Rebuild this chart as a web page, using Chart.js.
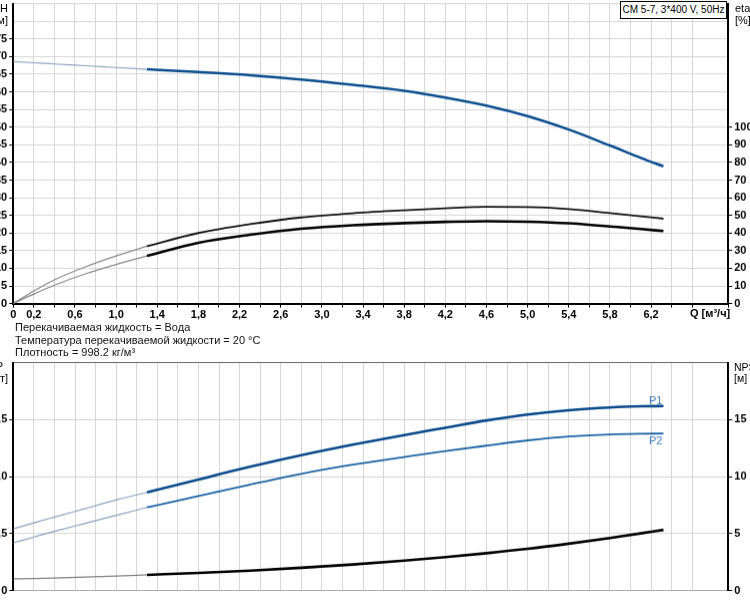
<!DOCTYPE html>
<html>
<head>
<meta charset="utf-8">
<script src="https://cdn.jsdelivr.net/npm/chart.js@4.4.0/dist/chart.umd.min.js"></script>
<style>
  html, body { margin: 0; padding: 0; background: #fff; }
  body { width: 750px; height: 600px; overflow: hidden; position: relative;
         font-family: "Liberation Sans", Arial, sans-serif; color: #000; }
  .box { position: absolute; left: 0; top: 0; }
  .lbl { position: absolute; font-size: 11px; line-height: 12px; white-space: nowrap; }
  .title { position: absolute; left: 620px; top: 1px; width: 107px; height: 18px; box-sizing: border-box;
           border: 1px solid #000; background: #fff; font-size: 10px; line-height: 16px; text-align: center;
           white-space: nowrap; }
</style>
</head>
<body>
<div id="topBox" class="box"><canvas id="topChart" width="800" height="330"></canvas></div>
<div id="botBox" class="box"><canvas id="botChart" width="800" height="260"></canvas></div>

<div class="lbl" style="right:742px; top:2px; text-align:right;">H<br>[м]</div>
<div class="lbl" style="left:735px; top:2px;">eta<br>[%]</div>
<div class="title">CM 5-7, 3*400 V, 50Hz</div>
<div class="lbl" style="left:690px; top:307px; font-weight:bold;">Q [м³/ч]</div>
<div class="lbl" style="left:15px; top:321px; line-height:12.6px; color:#111;">
  Перекачиваемая жидкость = Вода<br>
  Температура перекачиваемой жидкости = 20 °C<br>
  Плотность = 998.2 кг/м³
</div>
<div class="lbl" style="right:747px; top:360px; text-align:right;">P</div>
<div class="lbl" style="right:742px; top:372px; text-align:right;">[кВт]</div>
<div class="lbl" style="left:734px; top:362px; line-height:11px; font-size:10.5px;">NPSH<br>[м]</div>

<script>
// flow points: light start section and normal operating section
const qStart = [0, 0.2, 0.4, 0.7, 1.0, 1.3];
const qMain = [1.3, 1.8, 2.3, 2.8, 3.3, 3.8, 4.2, 4.6, 5.0, 5.4, 5.8, 6.1, 6.32];
const qMax = 6.95;
const qLabels = ['0', '0,2', '0,6', '1,0', '1,4', '1,8', '2,2', '2,6', '3,0', '3,4', '3,8', '4,2', '4,6', '5,0', '5,4', '5,8', '6,2'];

// head H [m]
const headStart = [68.6, 68.25, 67.9, 67.4, 66.9, 66.4];
const headMain = [66.4, 65.6, 64.7, 63.5, 62.0, 60.3, 58.4, 56.1, 53.1, 49.3, 44.8, 41.3, 38.9];

// efficiency [%]
const etaUpperStart = [0, 7.2, 13.4, 20.8, 27, 32.5];
const etaUpperMain = [32.5, 40, 45, 48.8, 51.2, 52.9, 54, 54.8, 54.7, 53.6, 51.3, 49.5, 48.1];
const etaLowerStart = [0, 5.4, 10.4, 16.8, 22.2, 27];
const etaLowerMain = [27, 34.5, 39, 42.4, 44.4, 45.6, 46.3, 46.7, 46.4, 45.5, 43.7, 42.3, 41.1];

// power [kW]
const p1Start = [0.542, 0.595, 0.645, 0.72, 0.795, 0.862];
const p1Main = [0.862, 0.975, 1.086, 1.188, 1.28, 1.365, 1.429, 1.493, 1.545, 1.583, 1.607, 1.617, 1.62];
const p2Start = [0.419, 0.47, 0.52, 0.59, 0.66, 0.73];
const p2Main = [0.73, 0.83, 0.93, 1.025, 1.105, 1.172, 1.224, 1.272, 1.318, 1.352, 1.37, 1.376, 1.378];

// NPSH [m]
const npshStart = [1.03, 1.06, 1.1, 1.18, 1.27, 1.38];
const npshMain = [1.38, 1.55, 1.75, 2.0, 2.29, 2.63, 2.94, 3.28, 3.66, 4.12, 4.62, 5.02, 5.33];

Chart.defaults.font.family = '"Liberation Sans", Arial, sans-serif';
Chart.defaults.font.size = 11;
Chart.defaults.color = '#000';

const gridColor = '#d6d6d6';
const none = 'rgba(0,0,0,0)';

function fmt(v) {
  return v === 0 ? '0' : v.toFixed(1).replace('.', ',');
}

function pts(qs, vs) {
  return qs.map((q, i) => ({ x: q, y: vs[i] }));
}

function line(qs, vs, axis, color, width, extra) {
  return Object.assign({
    data: pts(qs, vs),
    yAxisID: axis,
    borderColor: color,
    borderWidth: width,
    pointRadius: 0,
    fill: false,
    cubicInterpolationMode: 'monotone'
  }, extra || {});
}

function xAxis(main) {
  return {
    type: 'linear', min: 0, max: qMax,
    ticks: {
      stepSize: 0.2, autoSkip: false, maxRotation: 0, padding: 1, display: main,
      font: { weight: 'bold' },
      callback: v => { const s = fmt(v); return qLabels.includes(s) ? s : ''; }
    },
    grid: { color: gridColor, tickLength: 4, tickColor: '#000', drawTicks: main },
    border: { display: true, color: main ? '#000' : '#aaa', width: main ? 2 : 1 }
  };
}

function yAxis(pos, max, step, lastLabel, format, onChart, topColor) {
  return {
    position: pos, min: 0, max: max,
    ticks: {
      stepSize: step, padding: 2, font: { weight: 'bold' },
      callback: v => v <= lastLabel + 1e-9 ? format(v) : ''
    },
    grid: {
      drawOnChartArea: onChart,
      color: c => (topColor && c.tick && c.tick.value === max) ? topColor : gridColor,
      tickLength: 4,
      tickColor: c => (c.tick && c.tick.value <= lastLabel + 1e-9) ? '#000' : none
    },
    border: { display: true, color: '#000', width: 2 }
  };
}

const endLabels = {
  id: 'endLabels',
  afterDatasetsDraw(chart) {
    const ctx = chart.ctx;
    chart.data.datasets.forEach((ds, i) => {
      if (!ds.endLabel) return;
      const meta = chart.getDatasetMeta(i);
      const p = meta.data[meta.data.length - 1];
      ctx.save();
      ctx.font = '11px "Liberation Sans", Arial, sans-serif';
      ctx.fillStyle = '#3b7cbc';
      ctx.textAlign = 'right';
      ctx.textBaseline = 'alphabetic';
      ctx.fillText(ds.endLabel, p.x - 1, ds.endLabelBelow ? p.y + 11 : p.y - 2);
      ctx.restore();
    });
  }
};

const common = {
  responsive: false,
  maintainAspectRatio: false,
  animation: false,
  devicePixelRatio: 1,
  layout: { padding: 0 },
  plugins: { legend: { display: false }, tooltip: { enabled: false } }
};

const topChart = new Chart(document.getElementById('topChart'), {
  type: 'line',
  data: {
    datasets: [
      line(qStart, headStart, 'yH', '#8aa3c0', 1.2),
      line(qMain, headMain, 'yH', '#0c4f90', 2.5),
      line(qStart, etaUpperStart, 'yEta', '#8a8a8a', 1.2),
      line(qMain, etaUpperMain, 'yEta', '#111', 1.8),
      line(qStart, etaLowerStart, 'yEta', '#8a8a8a', 1.2),
      line(qMain, etaLowerMain, 'yEta', '#000', 2.6)
    ]
  },
  options: Object.assign({}, common, {
    scales: {
      x: xAxis(true),
      yH: yAxis('left', 85, 5, 75, v => String(v), true),
      yEta: yAxis('right', 170, 10, 100, v => String(v), false)
    }
  })
});

const botChart = new Chart(document.getElementById('botChart'), {
  type: 'line',
  data: {
    datasets: [
      line(qStart, p1Start, 'yP', '#8aa3c0', 1.2),
      line(qMain, p1Main, 'yP', '#0b4a8c', 2.6, { endLabel: 'P1' }),
      line(qStart, p2Start, 'yP', '#8aa3c0', 1.2),
      line(qMain, p2Main, 'yP', '#1c63a6', 1.8, { endLabel: 'P2', endLabelBelow: true }),
      line(qStart, npshStart, 'yN', '#808080', 1.2),
      line(qMain, npshMain, 'yN', '#000', 2.6)
    ]
  },
  options: Object.assign({}, common, {
    scales: {
      x: xAxis(false),
      yP: yAxis('left', 2, 0.5, 1.5, fmt, true, '#666'),
      yN: yAxis('right', 20, 5, 15, v => String(v), false)
    }
  }),
  plugins: [endLabels]
});

// size and shift each canvas so its plot area lands on the reference frame
function place(chart, boxId, L, T, R, B) {
  let a = chart.chartArea;
  chart.resize(chart.width + (R - L) - (a.right - a.left), chart.height + (B - T) - (a.bottom - a.top));
  a = chart.chartArea;
  const box = document.getElementById(boxId);
  box.style.left = (L - a.left) + 'px';
  box.style.top = (T - a.top) + 'px';
}

place(topChart, 'topBox', 13, 4, 728, 303);
place(botChart, 'botBox', 13, 363, 728, 590);
</script>
</body>
</html>
